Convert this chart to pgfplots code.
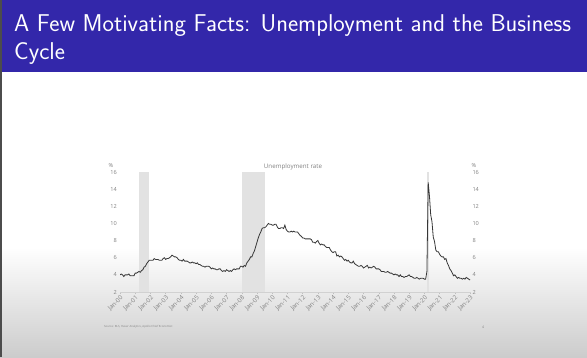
\documentclass[border=0pt]{standalone}
\usepackage{fontspec}
\usepackage{pgfplots}
\pgfplotsset{compat=1.18}
\newfontfamily\chartfont{Open Sans}
\definecolor{titleblue}{RGB}{51,39,170}
\definecolor{linegray}{RGB}{55,55,55}
\definecolor{shadegray}{RGB}{226,226,226}
\definecolor{labelgray}{RGB}{130,130,130}
\begin{document}
\begin{tikzpicture}[x=1pt,y=1pt]
\useasboundingbox (0,0) rectangle (587,357);
\fill[white] (0,0) rectangle (587,357);
\shade[top color=white, bottom color=black!20] (0,0) rectangle (587,110);
\fill[titleblue] (0,285) rectangle (587,357);
\fill[black!70] (0,0) rectangle (2,357);
\node[anchor=base west, text=white, font=\sffamily\fontsize{24.3}{28}\selectfont, inner sep=0] at (14,325) {A Few Motivating Facts: Unemployment and the Business};
\node[anchor=base west, text=white, font=\sffamily\fontsize{24.3}{28}\selectfont, inner sep=0] at (14,297) {Cycle};

\begin{axis}[
  at={(120pt,65pt)}, anchor=south west,
  scale only axis, width=351.3pt, height=120pt,
  xmin=0, xmax=277, ymin=2, ymax=16,
  axis x line*=bottom, axis y line*=left,
  y axis line style={draw=none},
  x axis line style={draw=black!18,-},
  ytick={2,4,...,16}, ytick style={draw=none},
  xtick={0,12,...,276},
  xticklabels={Jan-00,Jan-01,Jan-02,Jan-03,Jan-04,Jan-05,Jan-06,Jan-07,Jan-08,Jan-09,Jan-10,Jan-11,Jan-12,Jan-13,Jan-14,Jan-15,Jan-16,Jan-17,Jan-18,Jan-19,Jan-20,Jan-21,Jan-22,Jan-23},
  xtick style={draw=black!25, line width=0.4pt},
  major tick length=2pt,
  tick align=outside,
  /pgf/number format/assume math mode=true,
  xticklabel style={font=\chartfont\fontsize{6.2}{7}\selectfont, text=labelgray, rotate=45, anchor=north east, inner sep=0.5pt},
  yticklabel style={font=\chartfont\fontsize{5.6}{6}\selectfont, text=labelgray, inner sep=1pt},
  clip=true,
]
\addplot[fill=shadegray, draw=none] coordinates {(15,2) (15,16) (23,16) (23,2)} -- cycle;
\addplot[fill=shadegray, draw=none] coordinates {(96,2) (96,16) (114,16) (114,2)} -- cycle;
\addplot[fill=shadegray, draw=none] coordinates {(242,2) (242,16) (244,16) (244,2)} -- cycle;
\addplot[color=linegray, line width=0.8pt, mark=none] coordinates {
(0,4.0)(1,4.1)(2,4.0)(3,3.8)(4,4.0)(5,4.0)(6,4.0)(7,4.1)(8,3.9)(9,3.9)(10,3.9)(11,3.9)
(12,4.2)(13,4.2)(14,4.3)(15,4.4)(16,4.3)(17,4.5)(18,4.6)(19,4.9)(20,5.0)(21,5.3)(22,5.5)(23,5.7)
(24,5.7)(25,5.7)(26,5.7)(27,5.9)(28,5.8)(29,5.8)(30,5.8)(31,5.7)(32,5.7)(33,5.7)(34,5.9)(35,6.0)
(36,5.8)(37,5.9)(38,5.9)(39,6.0)(40,6.1)(41,6.3)(42,6.2)(43,6.1)(44,6.1)(45,6.0)(46,5.8)(47,5.7)
(48,5.7)(49,5.6)(50,5.8)(51,5.6)(52,5.6)(53,5.6)(54,5.5)(55,5.4)(56,5.4)(57,5.5)(58,5.4)(59,5.4)
(60,5.3)(61,5.4)(62,5.2)(63,5.2)(64,5.1)(65,5.0)(66,5.0)(67,4.9)(68,5.0)(69,5.0)(70,5.0)(71,4.9)
(72,4.7)(73,4.8)(74,4.7)(75,4.7)(76,4.6)(77,4.6)(78,4.7)(79,4.7)(80,4.5)(81,4.4)(82,4.5)(83,4.4)
(84,4.6)(85,4.5)(86,4.4)(87,4.5)(88,4.4)(89,4.6)(90,4.7)(91,4.6)(92,4.7)(93,4.7)(94,4.7)(95,5.0)
(96,5.0)(97,4.9)(98,5.1)(99,5.0)(100,5.4)(101,5.6)(102,5.8)(103,6.1)(104,6.1)(105,6.5)(106,6.8)(107,7.3)
(108,7.8)(109,8.3)(110,8.7)(111,9.0)(112,9.4)(113,9.5)(114,9.5)(115,9.6)(116,9.8)(117,10.0)(118,9.9)(119,9.9)
(120,9.8)(121,9.8)(122,9.9)(123,9.9)(124,9.6)(125,9.4)(126,9.4)(127,9.5)(128,9.5)(129,9.4)(130,9.8)(131,9.3)
(132,9.1)(133,9.0)(134,9.0)(135,9.1)(136,9.0)(137,9.1)(138,9.0)(139,9.0)(140,9.0)(141,8.8)(142,8.6)(143,8.5)
(144,8.3)(145,8.3)(146,8.2)(147,8.2)(148,8.2)(149,8.2)(150,8.2)(151,8.1)(152,7.8)(153,7.8)(154,7.7)(155,7.9)
(156,8.0)(157,7.7)(158,7.5)(159,7.6)(160,7.5)(161,7.5)(162,7.3)(163,7.2)(164,7.2)(165,7.2)(166,6.9)(167,6.7)
(168,6.6)(169,6.7)(170,6.7)(171,6.2)(172,6.3)(173,6.1)(174,6.2)(175,6.1)(176,5.9)(177,5.7)(178,5.8)(179,5.6)
(180,5.7)(181,5.5)(182,5.4)(183,5.4)(184,5.6)(185,5.3)(186,5.2)(187,5.1)(188,5.0)(189,5.0)(190,5.1)(191,5.0)
(192,4.8)(193,4.9)(194,5.0)(195,5.1)(196,4.8)(197,4.9)(198,4.8)(199,4.9)(200,5.0)(201,4.9)(202,4.7)(203,4.7)
(204,4.7)(205,4.6)(206,4.4)(207,4.4)(208,4.4)(209,4.3)(210,4.3)(211,4.4)(212,4.3)(213,4.2)(214,4.2)(215,4.1)
(216,4.0)(217,4.1)(218,4.0)(219,4.0)(220,3.8)(221,4.0)(222,3.8)(223,3.8)(224,3.7)(225,3.8)(226,3.8)(227,3.9)
(228,4.0)(229,3.8)(230,3.8)(231,3.7)(232,3.6)(233,3.6)(234,3.7)(235,3.6)(236,3.5)(237,3.6)(238,3.6)(239,3.6)
(240,3.5)(241,3.5)(242,4.4)(243,14.8)(244,13.2)(245,11.0)(246,10.2)(247,8.4)(248,7.9)(249,6.9)(250,6.7)(251,6.7)
(252,6.4)(253,6.2)(254,6.1)(255,6.1)(256,5.8)(257,5.9)(258,5.4)(259,5.1)(260,4.7)(261,4.5)(262,4.2)(263,3.9)
(264,4.0)(265,3.8)(266,3.6)(267,3.7)(268,3.6)(269,3.6)(270,3.5)(271,3.6)(272,3.5)(273,3.7)(274,3.6)(275,3.5)
(276,3.4)
};
\end{axis}

\begin{axis}[
  at={(120pt,65pt)}, anchor=south west,
  scale only axis, width=351.3pt, height=120pt,
  xmin=0, xmax=277, ymin=2, ymax=16,
  axis x line=none, axis y line*=right,
  y axis line style={draw=none},
  ytick={2,4,...,16}, ytick style={draw=none},
  /pgf/number format/assume math mode=true,
  yticklabel style={font=\chartfont\fontsize{5.6}{6}\selectfont, text=labelgray, inner sep=1pt},
]
\addplot[draw=none] coordinates {(0,2)(1,2)};
\end{axis}

\node[font=\chartfont\fontsize{5.6}{6}\selectfont, text=labelgray] at (111,192) {\%};
\node[font=\chartfont\fontsize{5.6}{6}\selectfont, text=labelgray] at (474,192) {\%};
\node[font=\chartfont\fontsize{6.2}{7}\selectfont, text=labelgray] at (293,190) {Unemployment rate};
\node[anchor=west, font=\chartfont\fontsize{2.8}{3}\selectfont, text=labelgray, inner sep=0] at (104,30) {Source: BLS, Haver Analytics, Apollo Chief Economist};
\node[font=\chartfont\fontsize{3.5}{4}\selectfont, text=labelgray, inner sep=0] at (483,30) {4};
\end{tikzpicture}
\end{document}
